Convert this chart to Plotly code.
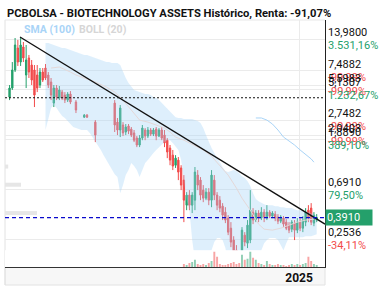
import math
import pandas as pd
import plotly.graph_objects as go

title_text = "PCBOLSA - BIOTECHNOLOGY ASSETS Histórico, Renta: -91,07%"

# two-week time grid (None = no trading in that slot)
dates = pd.date_range("2020-12-28", periods=112, freq="14D")
N = None
opens = [4.40, 5.27, 7.57, 11.78, 8.89, 12.02, 6.85, 9.64, 8.37, 7.57,
         6.85, 5.60, 7.27, 7.88, 6.85, 5.95, 3.90, 5.27, 4.31, 4.86,
         4.58, 4.14, 4.67, N, 3.98, N, N, 2.94, 3.06, N,
         N, 2.66, N, N, N, N, N, N, 3.90, 2.66,
         2.27, 2.51, 2.18, 2.46, 2.31, 2.14, 1.93, 1.68, 1.93, 2.27,
         2.01, 2.27, 2.09, 2.31, 2.01, 2.27, 2.05, 1.85, 1.58, 1.37,
         1.12, 1.24, 1.06, 0.830, 0.502, 0.614, 0.502, 0.555, 0.918, 0.830,
         0.679, 0.578, 0.652, 0.555, 0.830, 0.614, 0.555, 0.492, 0.436, 0.387,
         0.316, 0.249, 0.203, 0.173, 0.150, 0.275, 0.234, 0.249, 0.436, 0.372,
         0.428, 0.387, 0.436, 0.387, 0.436, 0.403, 0.419, 0.395, 0.364, 0.387,
         0.357, 0.336, 0.310, 0.350, 0.304, 0.357, 0.316, 0.357, 0.454, 0.473,
         0.350, 0.372]
highs = [5.60, 8.89, 14.40, 13.84, 14.70, 13.29, 12.51, 10.24, 9.26, 8.37,
         8.37, 7.88, 7.88, 8.54, 7.27, 6.45, 5.60, 5.60, 5.49, 5.07,
         4.86, 4.86, 4.96, N, 4.14, N, N, 3.13, 3.13, N,
         N, 2.77, N, N, N, N, N, N, 4.14, 2.89,
         3.75, 2.66, 2.56, 2.56, 2.41, 2.27, 2.01, 2.05, 2.51, 2.36,
         2.41, 2.36, 2.36, 2.41, 2.36, 2.41, 2.27, 1.93, 1.68, 1.52,
         1.37, 1.32, 1.12, 0.918, 0.652, 0.679, 0.652, 1.08, 1.015, 0.882,
         0.751, 0.707, 0.707, 1.015, 0.918, 0.652, 0.602, 0.523, 0.482, 0.411,
         0.357, 0.269, 0.225, 0.184, 0.323, 0.292, 0.372, 0.679, 0.473, 0.454,
         0.454, 0.482, 0.463, 0.502, 0.454, 0.445, 0.445, 0.419, 0.411, 0.403,
         0.379, 0.357, 0.372, 0.372, 0.387, 0.387, 0.403, 0.473, 0.502, 0.523,
         0.436, 0.419]
lows = [4.14, 5.07, 7.27, 8.21, 8.21, 8.89, 5.27, 6.45, 5.60, 3.60,
        4.86, 5.27, 5.95, 6.19, 5.27, 4.14, 3.60, 4.14, 4.14, 4.14,
        3.90, 3.98, 3.82, N, 3.19, N, N, 2.89, 2.89, N,
        N, 1.78, N, N, N, N, N, N, 2.18, 2.05,
        1.97, 2.01, 2.05, 2.09, 1.97, 1.78, 1.61, 1.61, 1.85, 1.85,
        1.93, 2.01, 2.01, 1.85, 1.97, 1.85, 1.61, 1.29, 1.12, 1.015,
        1.06, 0.830, 0.679, 0.357, 0.454, 0.454, 0.428, 0.454, 0.679, 0.555,
        0.533, 0.555, 0.502, 0.482, 0.555, 0.454, 0.436, 0.372, 0.350, 0.275,
        0.216, 0.177, 0.157, 0.145, 0.145, 0.220, 0.212, 0.234, 0.343, 0.357,
        0.357, 0.372, 0.357, 0.372, 0.387, 0.387, 0.364, 0.343, 0.350, 0.323,
        0.304, 0.286, 0.292, 0.249, 0.286, 0.298, 0.292, 0.329, 0.357, 0.336,
        0.329, 0.357]
closes = [5.27, 7.57, 12.51, 8.89, 12.51, 9.64, 9.26, 7.27, 6.19, 4.58,
          5.27, 7.27, 6.19, 6.45, 5.60, 4.58, 5.27, 4.40, 5.07, 4.31,
          4.14, 4.67, 3.98, N, 3.39, N, N, 3.06, 2.94, N,
          N, 2.05, N, N, N, N, N, N, 2.51, 2.27,
          3.53, 2.14, 2.41, 2.22, 2.05, 1.85, 1.68, 1.93, 2.36, 2.01,
          2.27, 2.09, 2.27, 2.01, 2.27, 1.93, 1.75, 1.46, 1.24, 1.10,
          1.29, 0.975, 0.751, 0.555, 0.614, 0.502, 0.614, 0.975, 0.751, 0.614,
          0.578, 0.652, 0.555, 0.918, 0.614, 0.502, 0.473, 0.411, 0.372, 0.292,
          0.239, 0.195, 0.166, 0.1535, 0.304, 0.239, 0.336, 0.454, 0.372, 0.428,
          0.387, 0.436, 0.395, 0.436, 0.403, 0.428, 0.387, 0.364, 0.395, 0.343,
          0.316, 0.304, 0.357, 0.304, 0.357, 0.316, 0.372, 0.436, 0.387, 0.357,
          0.411, 0.391]
volumes = [None] * 63 + [3, 2, 4, 5, 7, 3, 2, 3, 2, 4,
                         6, 15, 10, 3, 2, 2, 3, 4, 5, 3,
                         4, 12, 7, 8, 15, 9, 7, 4, 3, 2,
                         6, 3, 2, 2, 3, 2, 2, 1, 2, 3,
                         2, 3, 2, 3, 4, 10, 6, 3, 2]

# Bollinger (20) bands
bb_upper = [None] * 13 + [13.03, 13.03, 12.77, 12.51, 12.27, 12.02, 11.78, 11.78, 11.55, 11.32,
                          11.09, 10.87, 10.66, 10.44, 10.24, 10.24, 10.03, 9.83, 9.64, 9.45,
                          9.26, 9.07, 8.89, 8.89, 8.72, 8.72, 8.72, 8.37, 7.27, 6.45,
                          5.83, 5.38, 5.07, 4.96, 4.86, 4.77, 4.67, 4.67, 4.58, 4.40,
                          4.31, 4.14, 3.90, 3.67, 3.46, 3.25, 3.06, 2.94, 2.89, 2.89,
                          2.83, 2.83, 2.83, 2.83, 2.77, 2.72, 2.61, 2.36, 2.05, 1.78,
                          1.58, 1.43, 1.32, 1.19, 1.08, 0.995, 0.975, 0.995, 1.015, 0.995,
                          0.955, 0.899, 0.864, 0.813, 0.736, 0.639, 0.567, 0.544, 0.523, 0.512,
                          0.502, 0.502, 0.502, 0.492, 0.492, 0.482, 0.482, 0.473, 0.473, 0.473,
                          0.463, 0.454, 0.454, 0.454, 0.445, 0.436, 0.428, 0.419, 0.403]
bb_lower = [None] * 13 + [2.27, 2.77, 3.53, 3.75, 3.53, 3.25, 3.00, 2.89, 2.72, 2.56,
                          2.41, 2.36, 2.31, 2.27, 2.27, 2.27, 2.14, 1.97, 1.82, 1.68,
                          1.52, 1.37, 1.24, 1.12, 1.015, 0.936, 0.882, 0.639, 0.751, 0.918,
                          1.015, 1.17, 1.10, 1.015, 0.882, 1.015, 1.17, 1.24, 1.34, 1.43,
                          1.52, 1.61, 1.68, 1.78, 1.85, 1.85, 1.75, 1.64, 1.52, 1.24,
                          0.830, 0.555, 0.454, 0.249, 0.166, 0.145, 0.136, 0.131, 0.136, 0.160,
                          0.203, 0.239, 0.259, 0.259, 0.249, 0.212, 0.160, 0.136, 0.131, 0.131,
                          0.131, 0.131, 0.131, 0.131, 0.136, 0.136, 0.142, 0.160, 0.203, 0.234,
                          0.249, 0.259, 0.259, 0.259, 0.249, 0.225, 0.203, 0.234, 0.264, 0.264,
                          0.264, 0.264, 0.264, 0.264, 0.269, 0.269, 0.269, 0.275, 0.280]
mid_slots = [15, 18, 22, 24, 28, 31, 35, 38, 40, 42, 44, 47, 50, 53, 56, 58, 60, 63, 66,
             70, 73, 76, 79, 82, 84, 87, 90, 92, 95, 98, 101, 104, 107, 110]
mid_values = [7.88, 8.04, 7.27, 6.85, 6.32, 5.95, 5.38, 4.86, 4.40, 3.82, 3.39, 2.77, 2.66,
              2.51, 2.36, 2.18, 1.97, 1.85, 1.71, 1.52, 1.34, 1.12, 0.918, 0.707, 0.578,
              0.454, 0.343, 0.310, 0.304, 0.316, 0.336, 0.357, 0.372, 0.379]
sma_slots = [89, 91, 93, 95, 97, 99, 101, 103, 105, 107, 109, 110]
sma_values = [2.89, 2.89, 2.77, 2.56, 2.27, 1.97, 1.82, 1.68, 1.52, 1.40, 1.27, 1.19]

# price profile at left edge
prof_levels = [1.09, 0.757, 0.428]
prof_sizes = [1, 5, 10]

# drawn levels
trend_dates = ["2021-02-19", "2025-05-12"]
trend_prices = [14.68, 0.343]
support_level = 4.34
last_price = 0.391
x_start, x_end = "2020-12-05", "2025-05-12"

price_levels = [13.98, 7.4882, 5.5983, 5.1307, 2.7482, 2.0403, 1.889, 0.691, 0.2536]
price_labels = ["13,9800", "7,4882", "5,5983", "5,1307", "2,7482", "2,0403", "1,8890", "0,6910", "0,2536"]
pct_labels = ["3.531,16%", "-99,99%", "-99,99%", "1.232,67%", "-99,99%", "-99,99%", "389,10%", "79,50%", "-34,11%"]
last_label = "0,3910"

GREEN = "#24a06b"
RED = "#f24b4b"
FONT = "Roboto"

fig = go.Figure()

# Bollinger band fill
fig.add_trace(go.Scatter(x=dates, y=bb_upper, mode="lines", line=dict(width=0, color="rgba(0,0,0,0)"),
                         hoverinfo="skip", showlegend=False))
fig.add_trace(go.Scatter(x=dates, y=bb_lower, mode="lines", line=dict(width=0, color="rgba(0,0,0,0)"),
                         fill="tonexty", fillcolor="rgba(160,210,245,0.35)", hoverinfo="skip", showlegend=False))
fig.add_trace(go.Scatter(x=[dates[i] for i in mid_slots], y=mid_values, mode="lines",
                         line=dict(width=1, color="#e4d8d8"), hoverinfo="skip", showlegend=False))
fig.add_trace(go.Scatter(x=[dates[i] for i in sma_slots], y=sma_values, mode="lines",
                         line=dict(width=1, color="#a9d4f7"), hoverinfo="skip", showlegend=False))

# price profile bars
px_, py_ = [], []
for lv, s in zip(prof_levels, prof_sizes):
    px_ += [0, s, None]
    py_ += [lv, lv, None]
fig.add_trace(go.Scatter(x=px_, y=py_, xaxis="x2", yaxis="y", mode="lines",
                         line=dict(width=4, color="#e6e6e6"), hoverinfo="skip", showlegend=False))

# volume
vcol = []
for o, c, v in zip(opens, closes, volumes):
    if o is None or c is None:
        vcol.append("rgba(0,0,0,0)")
    else:
        vcol.append("rgba(36,160,107,0.5)" if c >= o else "rgba(242,75,75,0.5)")
fig.add_trace(go.Bar(x=dates, y=volumes, yaxis="y2", marker=dict(color=vcol, line=dict(width=0)),
                     hoverinfo="skip", showlegend=False))

# candles
keep = [i for i in range(len(dates)) if opens[i] is not None]
fig.add_trace(go.Candlestick(
    x=[dates[i] for i in keep], open=[opens[i] for i in keep], high=[highs[i] for i in keep],
    low=[lows[i] for i in keep], close=[closes[i] for i in keep],
    increasing=dict(line=dict(color=GREEN, width=1), fillcolor=GREEN),
    decreasing=dict(line=dict(color=RED, width=1), fillcolor=RED),
    whiskerwidth=0, hoverinfo="skip", showlegend=False))

# trend line and levels
fig.add_trace(go.Scatter(x=trend_dates, y=trend_prices, mode="lines",
                         line=dict(width=1.3, color="#111"), hoverinfo="skip", showlegend=False))
fig.add_trace(go.Scatter(x=[x_start, x_end], y=[support_level, support_level], mode="lines",
                         line=dict(width=1.2, color="#111", dash="2px,2px"), hoverinfo="skip", showlegend=False))
fig.add_trace(go.Scatter(x=[x_start, x_end], y=[last_price, last_price], mode="lines",
                         line=dict(width=1.2, color="#0a0acc", dash="4px,3px"), hoverinfo="skip", showlegend=False))

H = 247.0
ann = []
ann.append(dict(text="<b>" + title_text + "</b>", xref="paper", yref="paper", x=0, y=1 + 7 / H,
                xanchor="left", yanchor="middle", showarrow=False, xshift=0,
                font=dict(family=FONT, size=11.2, color="#111")))
ann.append(dict(text="<b>SMA (100)</b>", xref="paper", yref="paper", x=17 / 320, y=1 - 9 / H,
                xanchor="left", yanchor="middle", showarrow=False,
                font=dict(family=FONT, size=10.5, color="#a9d4f7")))
ann.append(dict(text="<b>BOLL (20)</b>", xref="paper", yref="paper", x=72 / 320, y=1 - 9 / H,
                xanchor="left", yanchor="middle", showarrow=False,
                font=dict(family=FONT, size=10.5, color="#d6d6d6")))
for lv, lab, pct in zip(price_levels, price_labels, pct_labels):
    ann.append(dict(text=lab, xref="paper", yref="y", x=1, y=math.log10(lv), xanchor="left",
                    yanchor="bottom", xshift=1, yshift=-2, showarrow=False,
                    font=dict(family=FONT, size=11, color="#111")))
    ann.append(dict(text=pct, xref="paper", yref="y", x=1, y=math.log10(lv), xanchor="left",
                    yanchor="top", xshift=1, yshift=2, showarrow=False,
                    font=dict(family=FONT, size=11, color=RED if pct.startswith("-") else GREEN)))
ann.append(dict(text=last_label, xref="paper", yref="y", x=1, y=math.log10(last_price), xanchor="left",
                yanchor="middle", xshift=0, showarrow=False, bgcolor=GREEN, width=44, align="left",
                borderpad=1, font=dict(family=FONT, size=11, color="white")))

shapes = [
    dict(type="rect", xref="paper", yref="paper", x0=0, x1=1, y0=-18 / H, y1=0,
         fillcolor="#f7f7f7", line=dict(color="#e2e2e2", width=1), layer="below"),
    dict(type="line", xref="paper", yref="paper", x0=0, x1=0, y0=-18 / H, y1=1,
         line=dict(color="#e2e2e2", width=1), layer="below"),
    dict(type="line", xref="paper", yref="paper", x0=0, x1=1, y0=1, y1=1,
         line=dict(color="#e8e8e8", width=1), layer="below"),
]

fig.update_layout(
    width=379, height=290, margin=dict(l=5, r=54, t=20, b=23),
    paper_bgcolor="white", plot_bgcolor="white", showlegend=False,
    annotations=ann, shapes=shapes, bargap=0.3,
    xaxis=dict(type="date", range=[x_start, x_end], tickmode="array",
               tickvals=["2025-01-01"], ticktext=["<b>2025</b>"], showgrid=True, gridcolor="#ebebeb",
               showline=True, linecolor="#333", linewidth=1, ticks="", zeroline=False,
               tickfont=dict(family=FONT, size=12, color="#111"), rangeslider=dict(visible=False)),
    xaxis2=dict(overlaying="x", range=[0, 100], visible=False, anchor="y"),
    yaxis=dict(type="log", range=[math.log10(0.145), math.log10(20.67)], side="right",
               tickmode="array", tickvals=price_levels, showticklabels=False, showgrid=True,
               gridcolor="#ebebeb", showline=True, linecolor="#222", linewidth=1, ticks="",
               zeroline=False),
    yaxis2=dict(domain=[0, 0.068], range=[0, 16.5], visible=False, anchor="x"),
)

fig.write_html("out.html")
